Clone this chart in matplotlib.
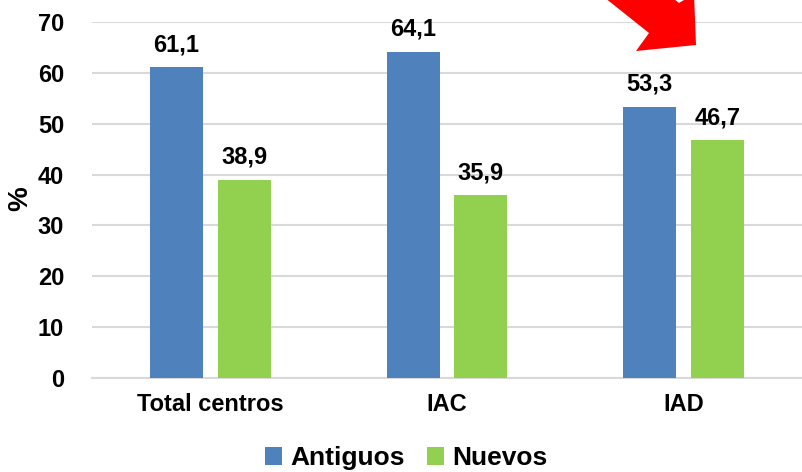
import matplotlib
matplotlib.use("Agg")
import matplotlib.pyplot as plt
import numpy as np
from matplotlib.patches import Polygon

categories = ["Total centros", "IAC", "IAD"]
antiguos = [61.1, 64.1, 53.3]
nuevos = [38.9, 35.9, 46.7]
yticks = [0, 10, 20, 30, 40, 50, 60, 70]

plt.rcParams['font.family'] = ['Liberation Sans', 'DejaVu Sans']
plt.rcParams['font.weight'] = 'bold'

W, H = 802, 472
fig = plt.figure(figsize=(W/100, H/100), dpi=100)
ax = fig.add_axes([92/W, 1-378/H, (802-92)/W, (378-22)/H])

x = np.arange(len(categories))
bw = 0.224
off = 0.143
c_blue = "#4f81bd"
c_green = "#92d050"
txt = "#000000"
b1 = ax.bar(x - off, antiguos, bw, color=c_blue, label="Antiguos", zorder=3)
b2 = ax.bar(x + off, nuevos, bw, color=c_green, label="Nuevos", zorder=3)

for bars, vals in ((b1, antiguos), (b2, nuevos)):
    for rect, v in zip(bars, vals):
        ax.text(rect.get_x() + rect.get_width()/2, v + 2.2, f"{v:.1f}".replace(".", ","),
                ha="center", va="bottom", fontsize=17, fontweight="bold", color=txt)

ax.set_xlim(-0.5, 2.5)
ax.set_ylim(0, 70)
ax.set_yticks(yticks)
ax.set_xticks(x)
ax.set_xticklabels(categories, fontsize=17, fontweight="bold", color=txt)
ax.tick_params(axis="y", labelsize=17, length=0, pad=20, labelcolor=txt)
ax.tick_params(axis="x", length=0, pad=11)
for lab in ax.get_yticklabels():
    lab.set_fontweight("bold")
ax.yaxis.grid(True, color="#d9d9d9", linewidth=1.5, zorder=0)
for s in ["top", "right", "left"]:
    ax.spines[s].set_visible(False)
ax.spines["bottom"].set_color("#d9d9d9")
ax.spines["bottom"].set_linewidth(1.5)
ax.set_ylabel("%", fontsize=20, fontweight="bold", color=txt, va="center")
ax.yaxis.set_label_coords((20 - 92) / (802 - 92), (378 - 199) / (378 - 22))

leg = fig.legend(handles=[b1, b2], labels=["Antiguos", "Nuevos"], loc="center",
                 bbox_to_anchor=(406/W, 1-458/H), ncol=2, frameon=False,
                 prop={"size": 19, "weight": "bold"}, handlelength=0.65, handleheight=0.65,
                 handletextpad=0.3, columnspacing=0.85)

# red annotation arrow (figure pixel coordinates)
pts = [(590, -14), (649, 33), (636, 51), (696, 45), (694, -6), (679, 3), (648, -22)]
pts_fig = [(px / W, 1 - py / H) for px, py in pts]
fig.patches.append(Polygon(pts_fig, closed=True, transform=fig.transFigure,
                           facecolor="#ff0000", edgecolor="none", zorder=10))

fig.savefig("out.png", dpi=100)
